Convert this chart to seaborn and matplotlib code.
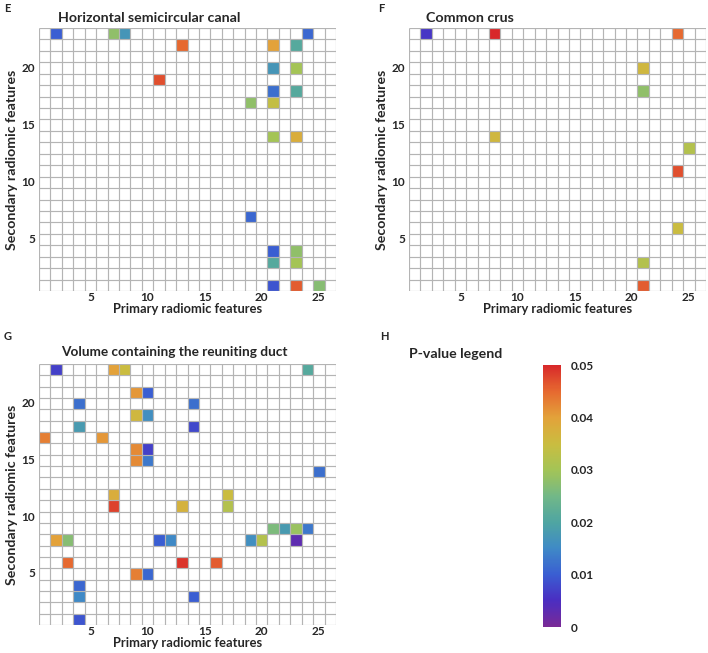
import numpy as np
import pandas as pd
import matplotlib
matplotlib.use("Agg")
import matplotlib.pyplot as plt
from matplotlib.colors import LinearSegmentedColormap, Normalize
import seaborn as sns

sns.set_style("white")
plt.rcParams['font.family'] = ['Lato', 'DejaVu Sans']
plt.rcParams['font.weight'] = 'bold'

N_PRIMARY = 26
N_SECONDARY = 23

# (primary feature, secondary feature, p-value)
e_primary = [2, 7, 8, 24, 13, 21, 23, 21, 23, 11, 21, 23, 19, 21, 21, 23, 19, 21, 23, 21, 23, 21, 23, 25]
e_secondary = [23, 23, 23, 23, 22, 22, 22, 20, 20, 19, 18, 18, 17, 17, 14, 14, 7, 4, 4, 3, 3, 1, 1, 1]
e_pvalue = [0.010, 0.028, 0.017, 0.011, 0.045, 0.040, 0.021, 0.017, 0.030, 0.047, 0.012, 0.021,
            0.028, 0.034, 0.030, 0.038, 0.011, 0.010, 0.028, 0.021, 0.030, 0.009, 0.046, 0.027]

f_primary = [2, 8, 24, 21, 21, 8, 25, 24, 24, 21, 21]
f_secondary = [23, 23, 23, 20, 18, 14, 13, 11, 6, 3, 1]
f_pvalue = [0.006, 0.050, 0.045, 0.036, 0.028, 0.036, 0.032, 0.047, 0.035, 0.032, 0.046]

g_primary = [2, 7, 8, 24, 9, 10, 4, 14, 9, 10, 4, 14, 1, 6, 9, 10, 9, 10, 25, 7, 17, 7, 13, 17,
             21, 22, 23, 24, 2, 3, 11, 12, 19, 20, 23, 3, 13, 16, 9, 10, 4, 4, 14, 4]
g_secondary = [23, 23, 23, 23, 21, 21, 20, 20, 19, 19, 18, 18, 17, 17, 16, 16, 15, 15, 14, 12, 12, 11, 11, 11,
               9, 9, 9, 9, 8, 8, 8, 8, 8, 8, 8, 6, 6, 6, 5, 5, 4, 3, 3, 1]
g_pvalue = [0.007, 0.040, 0.035, 0.021, 0.041, 0.010, 0.012, 0.012, 0.036, 0.016, 0.018, 0.008,
            0.043, 0.041, 0.042, 0.007, 0.042, 0.013, 0.012, 0.038, 0.035, 0.048, 0.037, 0.032,
            0.026, 0.018, 0.029, 0.013, 0.040, 0.027, 0.010, 0.015, 0.016, 0.032, 0.003,
            0.045, 0.049, 0.046, 0.043, 0.011, 0.011, 0.015, 0.010, 0.009]

x_ticks = [5, 10, 15, 20, 25]
y_ticks = [5, 10, 15, 20]
cbar_ticks = [0, 0.01, 0.02, 0.03, 0.04, 0.05]
cbar_labels = ["0", "0.01", "0.02", "0.03", "0.04", "0.05"]

cmap = LinearSegmentedColormap.from_list("pv", [
    (0.0, "#7a2a96"), (0.1, "#4a2ec2"), (0.2, "#3a5ed2"), (0.3, "#3f8ac6"),
    (0.4, "#4fa5a2"), (0.5, "#72b887"), (0.6, "#a4c456"), (0.7, "#cabd40"),
    (0.8, "#e3a23a"), (0.9, "#e66a30"), (1.0, "#d8282a")])
norm = Normalize(0, 0.05)

GRID = "#b4b4b4"
W, H = 708, 653

fig = plt.figure(figsize=(W / 100, H / 100), dpi=100)
renderer = fig.canvas.get_renderer()


def fit(t, target, horizontal=True):
    bb = t.get_window_extent(renderer=renderer)
    cur = bb.width if horizontal else bb.height
    t.set_fontsize(t.get_fontsize() * target / cur)


def build(prim, sec, pv):
    df = pd.DataFrame(np.nan, index=range(1, N_SECONDARY + 1), columns=range(1, N_PRIMARY + 1))
    for p, s, v in zip(prim, sec, pv):
        df.loc[s, p] = v
    return df


def rect(x0, y0, x1, y1):
    return [x0 / W, 1 - y1 / H, (x1 - x0) / W, (y1 - y0) / H]


def panel(r, df):
    ax = fig.add_axes(r)
    sns.heatmap(df, ax=ax, cmap=cmap, vmin=0, vmax=0.05, cbar=False, linewidths=0)
    ax.invert_yaxis()
    nr, nc = df.shape
    ax.hlines(np.arange(nr + 1), 0, nc, colors=GRID, linewidth=0.85, zorder=3)
    ax.vlines(np.arange(nc + 1), 0, nr, colors=GRID, linewidth=0.85, zorder=3)
    ax.set_xlim(0, nc)
    ax.set_ylim(0, nr)
    ax.set_xticks([t - 0.5 for t in x_ticks])
    ax.set_xticklabels([str(t) for t in x_ticks], rotation=0, fontsize=8.5, fontweight='bold')
    ax.set_yticks([t - 0.5 for t in y_ticks])
    ax.set_yticklabels([str(t) for t in y_ticks], rotation=0, fontsize=8.5, fontweight='bold')
    ax.tick_params(axis='x', length=0, pad=1)
    ax.tick_params(axis='y', length=0, pad=3)
    for s in ax.spines.values():
        s.set_visible(False)
    xl = ax.set_xlabel("Primary radiomic features", fontsize=10, fontweight='bold', labelpad=0)
    yl = ax.set_ylabel("Secondary radiomic features", fontsize=10, fontweight='bold', labelpad=2)
    fit(xl, 148)
    fit(yl, 180, horizontal=False)
    return ax


axE = panel(rect(39, 28, 336, 291), build(e_primary, e_secondary, e_pvalue))
axF = panel(rect(409, 28, 706, 291), build(f_primary, f_secondary, f_pvalue))
axG = panel(rect(39, 364, 336, 625), build(g_primary, g_secondary, g_pvalue))

cax = fig.add_axes(rect(543, 365, 561, 627))
cb = matplotlib.colorbar.ColorbarBase(cax, cmap=cmap, norm=norm, orientation='vertical')
cb.outline.set_visible(False)
cb.set_ticks(cbar_ticks)
cb.set_ticklabels(cbar_labels)
cax.tick_params(length=0, pad=7, labelsize=8.5)
for t in cax.get_yticklabels():
    t.set_fontweight('bold')


def ftext(x, y, s, size, target=None):
    t = fig.text(x / W, 1 - y / H, s, fontsize=size, fontweight='bold', ha='left', va='center')
    if target:
        fit(t, target)
    return t

ftext(4, 9, "E", 8)
ftext(378, 9, "F", 8)
ftext(4, 337, "G", 8)
ftext(380, 337, "H", 8)
ftext(58, 18, "Horizontal semicircular canal", 11, 182)
ftext(426, 18, "Common crus", 11, 87)
ftext(61, 352, "Volume containing the reuniting duct", 11, 226)
ftext(409, 354, "P-value legend", 11, 93)

fig.savefig("out.png", dpi=100)
